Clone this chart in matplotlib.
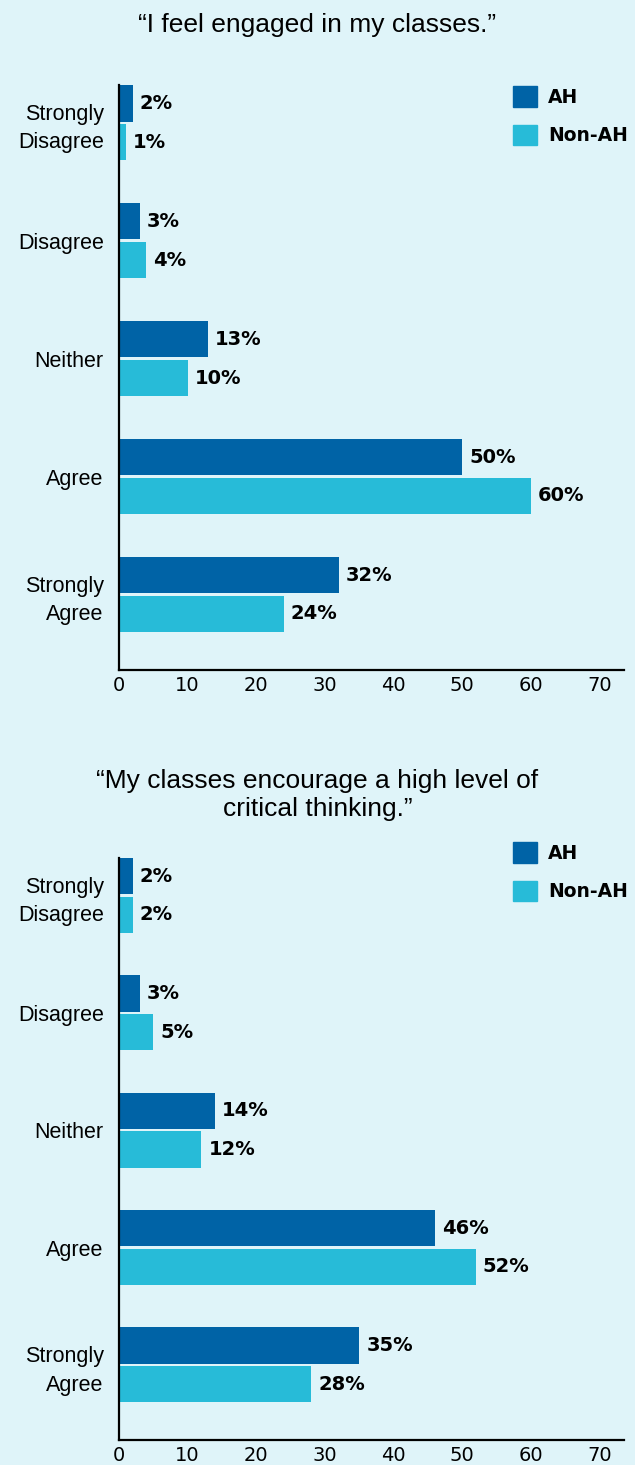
import numpy as np
import matplotlib
import matplotlib.pyplot as plt
from matplotlib.patches import Patch

matplotlib.rcParams.update({'font.family': ['Liberation Sans', 'DejaVu Sans']})

categories = ['Strongly\nDisagree', 'Disagree', 'Neither', 'Agree', 'Strongly\nAgree']
titles = ['\u201cI feel engaged in my classes.\u201d',
          '\u201cMy classes encourage a high level of\ncritical thinking.\u201d']
ah_engaged     = [2, 3, 13, 50, 32]
nonah_engaged  = [1, 4, 10, 60, 24]
ah_critical    = [2, 3, 14, 46, 35]
nonah_critical = [2, 5, 12, 52, 28]
xticks = [0, 10, 20, 30, 40, 50, 60, 70]

bg = '#dff4f9'
c_ah = '#0063a6'
c_non = '#27bbd8'

fig = plt.figure(figsize=(6.35, 14.65), dpi=100, facecolor=bg)

def panel(rect, ah, non, leg_y):
  ax = fig.add_axes(rect)
  ax.set_facecolor(bg)
  y = np.arange(len(categories))
  h = 0.31
  b1 = ax.barh(y - 0.165, ah, height=h, color=c_ah)
  b2 = ax.barh(y + 0.165, non, height=h, color=c_non)
  for bars, vals in [(b1, ah), (b2, non)]:
    for bar, v in zip(bars, vals):
      ax.annotate(f'{v}%', (bar.get_width(), bar.get_y() + bar.get_height()/2),
                  xytext=(5, 0), textcoords='offset points', va='center', ha='left',
                  fontsize=14, fontweight='bold', family='DejaVu Sans', color='black')
  ax.set_xlim(0, 73.6)
  ax.set_ylim(4.64, -0.32)
  ax.set_yticks(y)
  ax.set_yticklabels(categories, fontsize=15.5, multialignment='right', linespacing=1.45)
  ax.set_xticks(xticks)
  ax.set_xticklabels([str(t) for t in xticks], fontsize=14, family='DejaVu Sans')
  ax.tick_params(axis='y', length=0, pad=11)
  ax.tick_params(axis='x', length=0, pad=4)
  for s in ['top', 'right']:
    ax.spines[s].set_visible(False)
  for s in ['left', 'bottom']:
    ax.spines[s].set_linewidth(1.6)
    ax.spines[s].set_color('black')
  handles = [Patch(color=c_ah, label='AH'), Patch(color=c_non, label='Non-AH')]
  fig.legend(handles=handles, loc='upper left', bbox_to_anchor=(0.808, leg_y),
             bbox_transform=fig.transFigure, frameon=False, borderpad=0,
             borderaxespad=0, handlelength=1.3, handleheight=1.3,
             handletextpad=0.55, labelspacing=0.95,
             prop={'weight': 'bold', 'size': 13.5, 'family': 'DejaVu Sans'})
  return ax

panel([0.1874, 0.5427, 0.7956, 0.3993], ah_engaged, nonah_engaged, 0.941)
panel([0.1874, 0.0171, 0.7956, 0.3972], ah_critical, nonah_critical, 0.425)

fig.text(0.5, 1 - 25/1465, titles[0], ha='center', va='center', fontsize=19)
fig.text(0.5, 1 - 795/1465, titles[1], ha='center', va='center', fontsize=19,
         linespacing=1.25)

fig.savefig('out.png', dpi=100, facecolor=bg)
